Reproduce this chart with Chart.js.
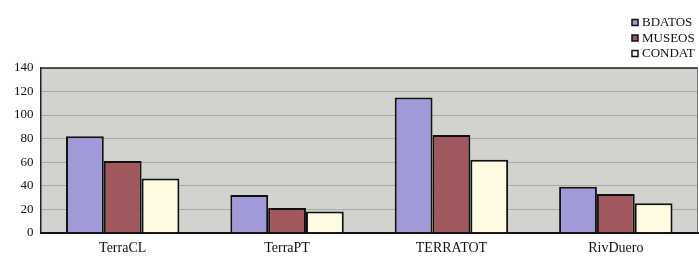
<!DOCTYPE html>
<html>
<head>
<meta charset="utf-8">
<script src="https://cdn.jsdelivr.net/npm/chart.js@4"></script>
<style>
html,body{margin:0;padding:0;background:#fff;}
#wrap{width:699px;height:260px;position:relative;}
</style>
</head>
<body>
<div id="wrap"><canvas id="c" width="699" height="260"></canvas></div>
<script>
const categories = ["TerraCL", "TerraPT", "TERRATOT", "RivDuero"];
const seriesNames = ["BDATOS", "MUSEOS", "CONDAT"];
const bdatos = [82, 32, 115, 39];
const museos = [61, 21, 83, 33];
const condat = [46, 18, 62, 25];
const yTicks = [0, 20, 40, 60, 80, 100, 120, 140];

const colors = ["#a09ad8", "#a0585e", "#fffbe2"];
const serif = "'Liberation Serif', 'DejaVu Serif', serif";

const bgPlugin = {
  id: 'plotBg',
  beforeDraw(chart) {
    const {ctx, chartArea: a} = chart;
    ctx.save();
    ctx.fillStyle = '#d2d2cf';
    ctx.fillRect(a.left, a.top, a.right - a.left, a.bottom - a.top);
    ctx.restore();
  },
  afterDatasetsDraw(chart) {
    const {ctx, chartArea: a} = chart;
    ctx.save();
    ctx.strokeStyle = '#222';
    ctx.lineWidth = 1.5;
    ctx.beginPath();
    ctx.moveTo(a.left, a.top); ctx.lineTo(a.right, a.top);
    ctx.stroke();
    ctx.strokeStyle = '#777';
    ctx.lineWidth = 1;
    ctx.beginPath();
    ctx.moveTo(a.right - 0.5, a.top); ctx.lineTo(a.right - 0.5, a.bottom);
    ctx.stroke();
    // legend
    const x0 = 632, y0 = 22.5, step = 15.5;
    ctx.font = "13px " + serif;
    ctx.textBaseline = 'middle';
    chart.data.datasets.forEach((ds, i) => {
      const y = y0 + i * step;
      ctx.fillStyle = ds.backgroundColor;
      ctx.fillRect(x0, y - 3, 6, 6);
      ctx.strokeStyle = '#111';
      ctx.lineWidth = 1.5;
      ctx.strokeRect(x0, y - 3, 6, 6);
      ctx.fillStyle = '#111';
      ctx.fillText(ds.label, x0 + 10, y + 0.5);
    });
    ctx.restore();
  }
};

new Chart(document.getElementById('c'), {
  type: 'bar',
  data: {
    labels: categories,
    datasets: [
      {label: seriesNames[0], data: bdatos, backgroundColor: colors[0]},
      {label: seriesNames[1], data: museos, backgroundColor: colors[1]},
      {label: seriesNames[2], data: condat, backgroundColor: colors[2]}
    ].map(d => Object.assign(d, {borderColor: '#111', borderWidth: 2, borderSkipped: 'bottom'}))
  },
  options: {
    responsive: false,
    devicePixelRatio: 1,
    animation: false,
    layout: {padding: {top: 68, right: 1, left: 7, bottom: -3.5}},
    datasets: {bar: {categoryPercentage: 0.69, barPercentage: 1.0}},
    plugins: {legend: {display: false}, tooltip: {enabled: false}},
    scales: {
      x: {
        grid: {display: false, drawTicks: false},
        border: {color: '#111', width: 2},
        ticks: {color: '#111', font: {family: serif, size: 14}, padding: 7}
      },
      y: {
        min: 0, max: 140,
        afterBuildTicks(axis) { axis.ticks = yTicks.map(v => ({value: v})); },
        grid: {color: '#a9a9a6', lineWidth: 1, drawTicks: false},
        border: {color: '#222', width: 1.5},
        ticks: {color: '#111', font: {family: serif, size: 13}, padding: 7}
      }
    }
  },
  plugins: [bgPlugin]
});
</script>
</body>
</html>
